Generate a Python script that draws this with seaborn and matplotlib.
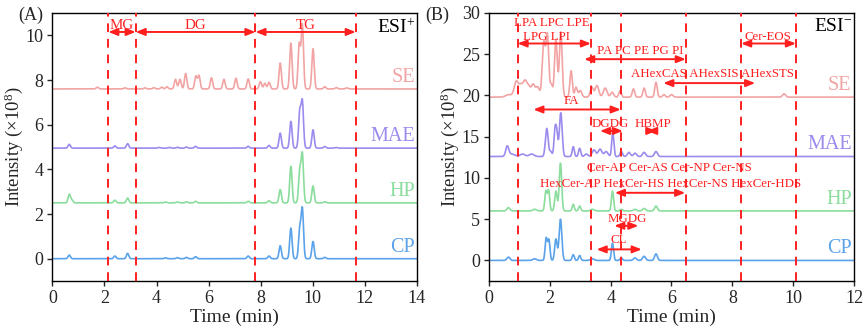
import numpy as np
import pandas as pd
import matplotlib
matplotlib.use("Agg")
import matplotlib.pyplot as plt
import seaborn as sns

# ---------------- data ----------------
samples = ["CP", "HP", "MAE", "SE"]
colors = {"SE": "#F2A3A3", "MAE": "#9A8CEE", "HP": "#8ADD9C", "CP": "#5AA2EA"}

# ESI+ : vertical offsets (x10^8) and peak tables (retention time, height)
pos_offsets = {"CP": 0.0, "HP": 2.5, "MAE": 4.95, "SE": 7.6}
pos_cp_peaks = [(0.65, 0.16), (2.4, 0.12), (2.89, 0.24), (4.35, 0.04), (4.8, 0.05),
                (5.15, 0.06), (5.5, 0.09), (7.52, 0.12), (8.32, 0.12), (8.75, 0.58),
                (9.16, 1.37), (9.5, 1.3), (9.6, 2.2), (10.01, 0.77), (10.46, 0.06)]
pos_hp_peaks = [(0.65, 0.38), (0.75, 0.12), (2.4, 0.12), (2.89, 0.22), (4.35, 0.04),
                (4.8, 0.04), (5.15, 0.05), (5.5, 0.07), (7.52, 0.07), (8.32, 0.1),
                (8.75, 0.6), (9.16, 1.64), (9.5, 1.4), (9.6, 2.15), (10.01, 0.76),
                (10.46, 0.05)]
pos_mae_peaks = [(0.65, 0.17), (2.4, 0.1), (2.89, 0.2), (4.1, 0.03), (4.5, 0.03),
                 (4.8, 0.04), (5.15, 0.05), (5.5, 0.08), (7.52, 0.08), (8.32, 0.12),
                 (8.75, 0.67), (9.16, 1.2), (9.5, 1.6), (9.6, 2.05), (10.01, 0.82),
                 (10.46, 0.07), (10.9, 0.03)]
pos_se_peaks = [(1.73, 0.08), (2.79, 0.05), (3.56, 0.05), (3.9, 0.06), (4.2, 0.08),
                (4.4, 0.1), (4.73, 0.43), (4.9, 0.43), (5.12, 0.69), (5.51, 0.57),
                (5.63, 0.6), (6.11, 0.5), (6.59, 0.43), (7.05, 0.48), (7.52, 0.45),
                (7.99, 0.33), (8.16, 0.25), (8.32, 0.3), (8.75, 1.16), (9.16, 2.05),
                (9.48, 2.0), (9.6, 2.87), (10.01, 1.8), (10.46, 0.1), (10.9, 0.06),
                (11.3, 0.05)]

# ESI- : vertical offsets (x10^8) and peak tables (retention time, height, width)
neg_offsets = {"CP": 0.0, "HP": 6.0, "MAE": 12.6, "SE": 19.8}
neg_cp_peaks = [(0.64, 0.4, 0.05), (1.5, 0.2, 0.06), (1.88, 2.7, 0.035), (1.97, 2.5, 0.035),
                (2.2, 2.6, 0.04), (2.35, 5.0, 0.045), (2.77, 0.7, 0.035), (2.98, 0.6, 0.035),
                (3.4, 0.2, 0.06), (4.06, 2.1, 0.035), (4.35, 0.3, 0.04), (4.8, 0.3, 0.05),
                (5.1, 0.5, 0.05), (5.49, 0.8, 0.045)]
neg_hp_peaks = [(0.64, 0.4, 0.05), (1.5, 0.2, 0.06), (1.87, 2.4, 0.035), (1.96, 2.5, 0.035),
                (2.2, 2.4, 0.04), (2.35, 5.8, 0.04), (2.77, 0.8, 0.035), (2.98, 0.6, 0.035),
                (3.4, 0.2, 0.06), (4.06, 2.4, 0.035), (4.35, 0.2, 0.04), (4.8, 0.2, 0.05),
                (5.1, 0.3, 0.05), (5.49, 0.6, 0.045)]
neg_mae_peaks = [(0.6, 1.2, 0.05), (0.75, 0.3, 0.1), (1.1, 0.3, 0.08), (1.4, 0.3, 0.08),
                 (1.9, 3.4, 0.045), (2.03, 0.6, 0.04), (2.17, 3.0, 0.035), (2.23, 2.6, 0.035),
                 (2.36, 5.3, 0.045), (2.77, 1.2, 0.035), (2.98, 1.0, 0.035), (3.2, 0.3, 0.05),
                 (3.45, 0.8, 0.06), (3.65, 0.9, 0.06), (3.85, 0.6, 0.06), (4.07, 2.9, 0.035),
                 (4.35, 0.6, 0.04), (4.6, 0.5, 0.05), (4.8, 0.4, 0.05), (5.1, 0.5, 0.05),
                 (5.49, 0.6, 0.05)]
neg_se_peaks = [(0.65, 0.3, 0.1), (0.9, 1.9, 0.07), (1.05, 1.3, 0.06), (1.18, 1.8, 0.06),
                (1.3, 1.2, 0.06), (1.45, 1.5, 0.06), (1.6, 1.2, 0.06), (1.8, 6.6, 0.05),
                (1.92, 7.4, 0.045), (2.05, 1.5, 0.04), (2.2, 7.0, 0.045), (2.36, 7.9, 0.045),
                (2.7, 3.2, 0.04), (2.86, 1.2, 0.04), (3.0, 0.8, 0.05), (3.38, 1.2, 0.05),
                (3.55, 1.4, 0.06), (3.82, 1.1, 0.06), (4.05, 0.6, 0.05), (4.31, 0.8, 0.04),
                (4.75, 1.0, 0.04), (5.1, 1.1, 0.04), (5.49, 1.8, 0.04), (5.75, 0.3, 0.04),
                (6.0, 0.3, 0.05), (9.7, 0.4, 0.05)]

pos_peaks = {"CP": pos_cp_peaks, "HP": pos_hp_peaks, "MAE": pos_mae_peaks, "SE": pos_se_peaks}
neg_peaks = {"CP": neg_cp_peaks, "HP": neg_hp_peaks, "MAE": neg_mae_peaks, "SE": neg_se_peaks}

# class boundaries (min)
pos_bounds = [2.15, 3.2, 7.8, 11.65]
neg_bounds = [0.94, 3.35, 4.33, 6.47, 8.29, 10.09]

# class labels: (text, x, y) and arrows: (x0, x1, y)
pos_labels = [("MG", 2.67, 10.45), ("DG", 5.5, 10.45), ("TG", 9.72, 10.45)]
pos_arrows = [(2.15, 3.2, 10.15), (3.2, 7.8, 10.15), (7.8, 11.65, 10.15)]
neg_labels = [("LPA LPC LPE", 2.05, 28.8), ("LPG LPI", 1.9, 27.1),
              ("PA PC PE PG PI", 4.96, 25.4), ("Cer-EOS", 9.18, 27.1),
              ("AHexCAS AHexSIS AHexSTS", 7.35, 22.6), ("FA", 2.72, 19.3),
              ("DGDG", 3.98, 16.6), ("HBMP", 5.38, 16.6),
              ("Cer-AP Cer-AS Cer-NP Cer-NS", 5.93, 11.2),
              ("HexCer-AP HexCer-HS HexCer-NS HexCer-HDS", 5.98, 9.3),
              ("MGDG", 4.53, 5.05), ("CL", 4.25, 2.43)]
neg_arrows = [(0.94, 3.35, 26.3), (3.13, 6.47, 24.4), (8.29, 10.09, 26.3),
              (5.73, 8.75, 21.5), (1.46, 4.33, 18.3), (3.65, 4.4, 15.7),
              (5.2, 5.5, 15.7), (4.14, 6.45, 8.2), (4.12, 4.91, 4.2),
              (3.54, 5.02, 1.34)]


# ---------------- build traces ----------------
def build_traces(peaks, offsets, tmax, default_w):
    t = np.linspace(0, tmax, int(tmax * 300) + 1)
    frames = []
    for s in samples:
        y = np.full_like(t, offsets[s])
        for p in peaks[s]:
            rt, h = p[0], p[1]
            w = p[2] if len(p) > 2 else default_w
            y = y + h * np.exp(-0.5 * ((t - rt) / w) ** 2)
        frames.append(pd.DataFrame({"time": t, "intensity": y, "sample": s}))
    return pd.concat(frames, ignore_index=True)


pos_df = build_traces(pos_peaks, pos_offsets, 14, 0.045)
neg_df = build_traces(neg_peaks, neg_offsets, 12, 0.045)

# ---------------- style ----------------
sns.set_theme(style="ticks")
plt.rcParams["font.family"] = ["Liberation Serif", "DejaVu Serif"]
plt.rcParams["mathtext.fontset"] = "custom"
plt.rcParams["mathtext.rm"] = "Liberation Serif"
plt.rcParams["mathtext.it"] = "Liberation Serif:italic"
plt.rcParams["axes.linewidth"] = 1.0
plt.rcParams["xtick.major.width"] = 1.0
plt.rcParams["ytick.major.width"] = 1.0
plt.rcParams["xtick.major.size"] = 3.5
plt.rcParams["ytick.major.size"] = 3.5
plt.rcParams["xtick.major.pad"] = 3
plt.rcParams["ytick.major.pad"] = 3
plt.rcParams["axes.edgecolor"] = "black"

RED = "#FF1F1F"

fig = plt.figure(figsize=(8.65, 3.33), dpi=100)
axA = fig.add_axes([0.0605, 0.156, 0.4215, 0.805])
axB = fig.add_axes([0.5653, 0.156, 0.422, 0.805])


def draw_panel(ax, df, offsets, bounds, labels, arrows, xmax, ylim, yticks,
               lab_dy, lab_x, esi, esi_xy, note_size):
    sns.lineplot(data=df, x="time", y="intensity", hue="sample", palette=colors,
                 estimator=None, sort=False, legend=False, lw=1.2, ax=ax)
    for b in bounds:
        ax.axvline(b, color=RED, lw=1.4, ls=(0, (4.5, 3.5)), zorder=3)
    for x0, x1, y in arrows:
        ax.annotate("", xy=(x1, y), xytext=(x0, y),
                    arrowprops=dict(arrowstyle="<|-|>,head_length=0.45,head_width=0.18",
                                    color=RED, lw=1.4, shrinkA=0, shrinkB=0), zorder=4)
    for txt, x, y in labels:
        ax.text(x, y, txt, color=RED, fontsize=note_size, ha="center", va="center", zorder=5)
    for s in samples:
        ax.text(lab_x, offsets[s] + lab_dy, s, color=colors[s], fontsize=14.5,
                ha="right", va="center")
    ax.text(esi_xy[0], esi_xy[1], esi, fontsize=14, ha="right", va="center", color="black")
    ax.set_xlim(0, xmax)
    ax.set_ylim(*ylim)
    ax.set_xticks(np.arange(0, xmax + 1, 2))
    ax.set_yticks(yticks)
    ax.tick_params(labelsize=13, direction="out", top=False, right=False)
    for sp in ax.spines.values():
        sp.set_visible(True)
    ax.set_xlabel("Time (min)", fontsize=14, labelpad=1)
    ax.set_ylabel("Intensity (×10$^8$)", fontsize=13.5, labelpad=0.5)


draw_panel(axA, pos_df, pos_offsets, pos_bounds, pos_labels, pos_arrows, 14,
           (-1, 11), np.arange(0, 11, 2), 0.5, 13.93, "ESI$^{+}$", (13.95, 10.35), 10.8)
draw_panel(axB, neg_df, neg_offsets, neg_bounds, neg_labels, neg_arrows, 12,
           (-2.5, 30), np.arange(0, 31, 5), 1.4, 11.92, "ESI$^{-}$", (11.95, 28.4), 9.3)

fig.text(0.035, 0.955, "(A)", fontsize=13, ha="center", va="center")
fig.text(0.506, 0.955, "(B)", fontsize=13, ha="center", va="center")

fig.savefig("out.png", dpi=100)
